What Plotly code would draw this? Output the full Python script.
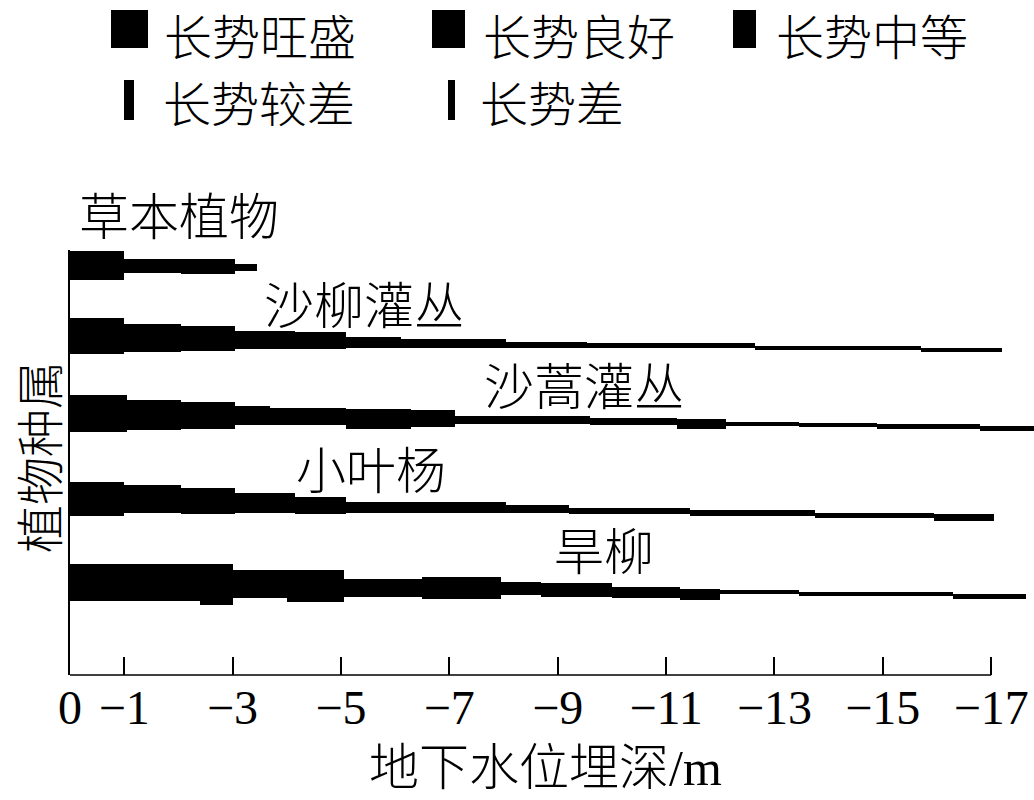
import plotly.graph_objects as go

# ---------------- data ----------------
species = ["草本植物", "沙柳灌丛", "沙蒿灌丛", "小叶杨", "旱柳"]
species_pos = [41.0, 33.5, 25.7, 17.5, 9.2]

# segment boundaries (groundwater depth, m) and upper/lower band edges (relative to species baseline)
herb_depth = [0, 1.0, 2.05, 3.05, 3.45]
herb_upper = [1.4, 0.6, 0.6, 0.15]
herb_lower = [-1.5, -0.8, -0.9, -0.55]

salix_depth = [0, 1.0, 2.05, 3.05, 4.15, 5.1, 6.1, 8.05, 9.55, 12.65, 15.7, 17.2]
salix_upper = [2.25, 1.65, 1.4, 0.95, 0.8, 0.33, 0.1, -0.15, -0.33, -0.6, -0.83]
salix_lower = [-1.4, -1.15, -1.05, -0.9, -0.85, -0.83, -0.8, -0.75, -0.77, -1.0, -1.17]

artemisia_depth = [0, 1.05, 2.05, 3.05, 3.7, 5.1, 6.3, 7.1, 9.6, 11.2, 12.1, 13.45, 14.9, 16.8, 17.8]
artemisia_upper = [2.3, 1.8, 1.63, 1.25, 1.05, 0.95, 0.8, 0.2, -0.03, -0.05, -0.37, -0.53, -0.63, -0.8]
artemisia_lower = [-1.35, -1.2, -1.05, -0.7, -0.7, -1.1, -0.9, -0.6, -0.7, -1.1, -0.77, -0.93, -1.1, -1.3]

poplar_depth = [0, 1.0, 2.05, 3.05, 4.15, 5.1, 8.05, 9.2, 11.45, 13.75, 15.95, 17.05]
poplar_upper = [1.83, 1.5, 1.17, 0.67, 0.33, -0.17, -0.5, -0.83, -1.0, -1.27, -1.43]
poplar_lower = [-1.6, -1.3, -1.4, -1.3, -1.4, -1.3, -1.25, -1.4, -1.6, -1.83, -2.07]

willow_depth = [0, 2.4, 3.0, 4.0, 5.05, 6.5, 7.95, 8.7, 10.0, 11.25, 12.0, 13.45, 16.3, 17.65]
willow_upper = [1.9, 1.9, 1.3, 1.3, 0.4, 0.57, 0.13, 0.03, -0.37, -0.63, -0.7, -0.87, -1.1]
willow_lower = [-1.8, -2.2, -1.5, -1.85, -1.35, -1.55, -1.2, -1.35, -1.5, -1.7, -1.05, -1.3, -1.63]

tick_vals = [0, -1, -3, -5, -7, -9, -11, -13, -15, -17]
tick_text = ["0", "−1", "−3", "−5", "−7", "−9", "−11", "−13", "−15", "−17"]

legend_labels = ["长势旺盛", "长势良好", "长势中等", "长势较差", "长势差"]

x_title = "地下水位埋深/m"
y_title = "植物种属"

# ---------------- layout constants ----------------
W, H = 1034, 800
L, R, T, B = 70, 0, 250, 125
PW, PH = W - L - R, H - T - B
CJK = "Noto Sans CJK SC"
SERIF = "Liberation Serif, Noto Sans CJK SC"
FS = 48
FS_LAB = 50
FS_LEG = 48


def px_x(px):
    return (px - L) / PW


def px_y(py):
    return (H - B - py) / PH


bands = [
    (herb_depth, herb_upper, herb_lower),
    (salix_depth, salix_upper, salix_lower),
    (artemisia_depth, artemisia_upper, artemisia_lower),
    (poplar_depth, poplar_upper, poplar_lower),
    (willow_depth, willow_upper, willow_lower),
]

fig = go.Figure()
for name, pos, (dep, up, lo) in zip(species, species_pos, bands):
    n = len(up)
    fig.add_trace(go.Bar(
        orientation="h",
        name=name,
        y=[pos] * n,
        base=[-dep[i] for i in range(n)],
        x=[-(dep[i + 1] - dep[i]) for i in range(n)],
        width=[up[i] - lo[i] for i in range(n)],
        offset=lo,
        marker=dict(color="black", line=dict(width=0)),
        showlegend=False,
        hoverinfo="skip",
    ))

# species labels (left x px, centre y px)
label_px = [(77, 213), (262, 302), (482, 383), (294, 467), (552, 548)]
annotations = []
for name, (lx, ly) in zip(species, label_px):
    annotations.append(dict(x=px_x(lx), y=px_y(ly), xref="paper", yref="paper",
                            text=name, showarrow=False, xanchor="left", yanchor="middle",
                            font=dict(family=CJK, size=FS_LAB, color="black", weight=300)))

# legend (drawn manually: bars of decreasing thickness)
legend_marker_px = [(111, 148, 10, 48), (432, 465, 10, 48), (733, 756, 10, 48),
                    (124, 134, 80, 120), (448, 455, 80, 120)]
legend_text_px = [(162, 34), (481, 34), (774, 34), (161, 101), (478, 101)]
shapes = []
for lab, (x0, x1, y0, y1), (tx, ty) in zip(legend_labels, legend_marker_px, legend_text_px):
    shapes.append(dict(type="rect", xref="paper", yref="paper",
                       x0=px_x(x0), x1=px_x(x1), y0=px_y(y1), y1=px_y(y0),
                       fillcolor="black", line=dict(width=0)))
    annotations.append(dict(x=px_x(tx), y=px_y(ty), xref="paper", yref="paper",
                            text=lab, showarrow=False, xanchor="left", yanchor="middle",
                            font=dict(family=CJK, size=FS_LEG, color="black", weight=300)))

# x axis line only up to -17
shapes.append(dict(type="line", xref="x", yref="paper", x0=0, x1=tick_vals[-1], y0=0, y1=0,
                   line=dict(color="black", width=1.5)))

# axis titles
annotations.append(dict(x=px_x(545), y=px_y(768), xref="paper", yref="paper", text=x_title,
                        showarrow=False, xanchor="center", yanchor="middle",
                        font=dict(family=SERIF, size=FS_LAB, color="black", weight=300)))
annotations.append(dict(x=px_x(37), y=px_y(457), xref="paper", yref="paper", text=y_title,
                        showarrow=False, xanchor="center", yanchor="middle", textangle=-90,
                        font=dict(family=CJK, size=FS, color="black", weight=300)))

fig.update_layout(
    width=W, height=H, autosize=False,
    margin=dict(l=L, r=R, t=T, b=B, pad=0),
    paper_bgcolor="white", plot_bgcolor="white",
    barmode="overlay", bargap=0,
    showlegend=False,
    shapes=shapes,
    annotations=annotations,
    xaxis=dict(range=[0, -17.79], showline=False, showgrid=False, zeroline=False,
               tickmode="array", tickvals=tick_vals, ticktext=tick_text,
               ticks="inside", ticklen=18, tickwidth=1.5, tickcolor="black",
               tickfont=dict(family=SERIF, size=FS, color="black")),
    yaxis=dict(range=[0, 42.5], showline=True, linecolor="black", linewidth=1.5,
               showgrid=False, zeroline=False, showticklabels=False, ticks=""),
)

fig.write_html("out.html", config={"displayModeBar": False},
               post_script="document.body.style.margin='0';document.body.style.padding='0';")
